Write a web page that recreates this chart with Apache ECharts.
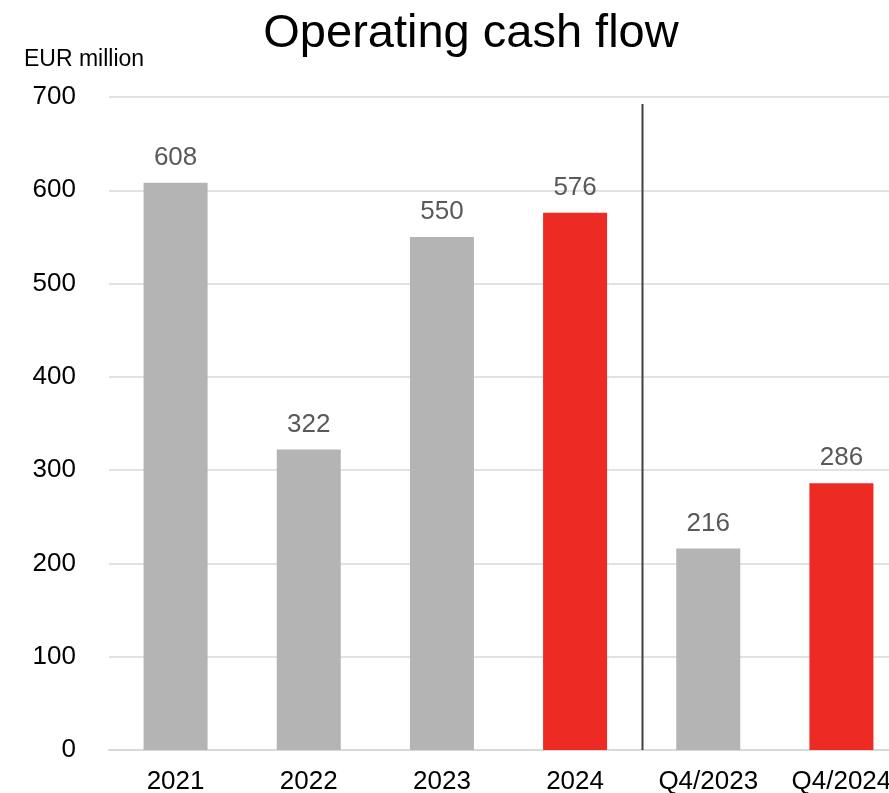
<!DOCTYPE html>
<html>
<head>
<meta charset="utf-8">
<title>Operating cash flow</title>
<script src="https://cdn.jsdelivr.net/npm/echarts@6/dist/echarts.min.js"></script>
<style>
  html, body { margin: 0; padding: 0; background: #ffffff; overflow: hidden; }
  /* the plot area runs a little past the right edge of the page */
  #chart { width: 908px; height: 793px; }
</style>
</head>
<body>
<div id="chart"></div>
<script>
// Operating cash flow, EUR million
const categories = ['2021', '2022', '2023', '2024', 'Q4/2023', 'Q4/2024'];
const cashFlow = [608, 322, 550, 576, 216, 286];
const highlighted = [false, false, false, true, false, true];
const yTicks = [0, 100, 200, 300, 400, 500, 600, 700];

const GREY = '#b4b4b4';
const RED = '#ee2a24';
const FONT = '"Liberation Sans", Arial, sans-serif';

const chart = echarts.init(document.getElementById('chart'), null, { renderer: 'canvas' });

const unitLabel = {
  type: 'text',
  left: 24,
  top: 48,
  style: { text: 'EUR million', font: '23px ' + FONT, fill: '#000000' }
};

const option = {
  animation: false,
  backgroundColor: '#ffffff',
  title: {
    text: 'Operating cash flow',
    left: 466,
    top: 6,
    textAlign: 'center',
    textStyle: { fontFamily: FONT, fontSize: 47, fontWeight: 'normal', color: '#000000' }
  },
  graphic: [unitLabel],
  grid: {
    left: 109, right: 0, top: 97, bottom: 43,
    containLabel: false,
    outerBoundsMode: 'none'
  },
  xAxis: {
    type: 'category',
    data: categories,
    axisLine: { show: true, lineStyle: { color: '#d9d9d9', width: 2 } },
    axisTick: { show: false },
    axisLabel: { color: '#000000', fontFamily: FONT, fontSize: 26, margin: 19 }
  },
  yAxis: {
    type: 'value',
    min: yTicks[0],
    max: yTicks[yTicks.length - 1],
    interval: 100,
    axisLine: { show: false },
    axisTick: { show: false },
    splitLine: { lineStyle: { color: '#d9d9d9', width: 1.5 } },
    axisLabel: { color: '#000000', fontFamily: FONT, fontSize: 26, margin: 33 }
  },
  series: [{
    type: 'bar',
    barWidth: 64,
    data: cashFlow.map((v, i) => ({
      value: v,
      itemStyle: { color: highlighted[i] ? RED : GREY }
    })),
    label: {
      show: true,
      position: 'top',
      distance: 12,
      color: '#595959',
      fontFamily: FONT,
      fontSize: 26
    }
  }]
};

chart.setOption(option);

// Vertical divider between the annual and quarterly groups
const xa = chart.convertToPixel({ xAxisIndex: 0 }, categories[3]);
const xb = chart.convertToPixel({ xAxisIndex: 0 }, categories[4]);
const yBase = chart.convertToPixel({ yAxisIndex: 0 }, 0);
const xMid = Math.round((xa + xb) / 2) + 0.5;
chart.setOption({
  graphic: [
    unitLabel,
    {
      type: 'line',
      shape: { x1: xMid, y1: 104, x2: xMid, y2: yBase },
      style: { stroke: '#404040', lineWidth: 2 },
      z: 10
    }
  ]
});
</script>
</body>
</html>
